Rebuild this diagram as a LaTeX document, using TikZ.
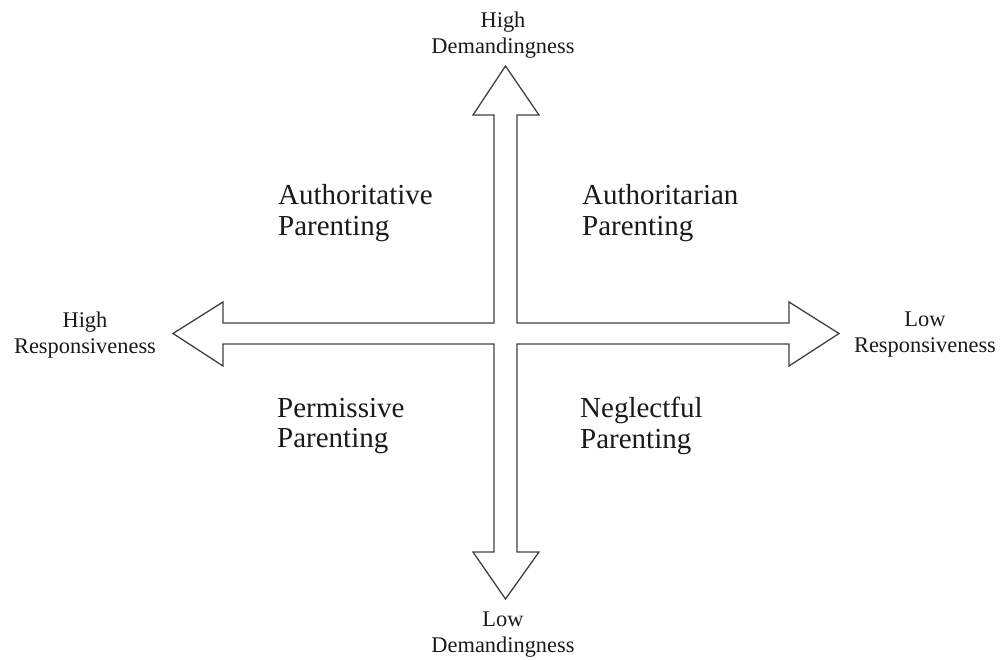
\documentclass[tikz,border=0pt]{standalone}
\usepackage{fontspec}
\setmainfont{Liberation Serif}
\definecolor{linegray}{HTML}{404040}
\definecolor{textcol}{HTML}{1A1A1A}
\begin{document}
\begin{tikzpicture}[x=1pt,y=-1pt,
  axislabel/.style={inner sep=0pt,align=center,text=textcol,font=\fontsize{22.4}{26}\selectfont},
  stylelabel/.style={inner sep=0pt,align=left,anchor=west,text=textcol,font=\fontsize{29}{30.5}\selectfont},
  crossline/.style={draw=linegray,line width=1.3pt,line join=miter,fill=white}]
\useasboundingbox[fill=white] (0,0) rectangle (1001,660);
\draw[crossline] (505.5,66) -- (539,115) -- (517,115) -- (517,323) -- (789,323) -- (789,302)
  -- (839,333.5) -- (789,366) -- (789,344) -- (517,344) -- (517,552) -- (539,552)
  -- (505.5,599) -- (473,552) -- (494,552) -- (494,344) -- (223,344) -- (223,366)
  -- (173,333.5) -- (223,302) -- (223,323) -- (494,323) -- (494,115) -- (473,115) -- cycle;
\node[axislabel] (hd) at (503,35) {High\\Demandingness};
\node[axislabel] (ld) at (503,635) {Low\\Demandingness};
\node[axislabel] (hr) at (85,335) {High\\Responsiveness};
\node[axislabel] (lr) at (925,335) {Low\\Responsiveness};
\node[stylelabel] (atv) at (278,213) {Authoritative\\Parenting};
\node[stylelabel] (atn) at (582,213) {Authoritarian\\Parenting};
\node[stylelabel] (per) at (277,426) {Permissive\\Parenting};
\node[stylelabel] (neg) at (580,426) {Neglectful\\Parenting};
\end{tikzpicture}
\end{document}
